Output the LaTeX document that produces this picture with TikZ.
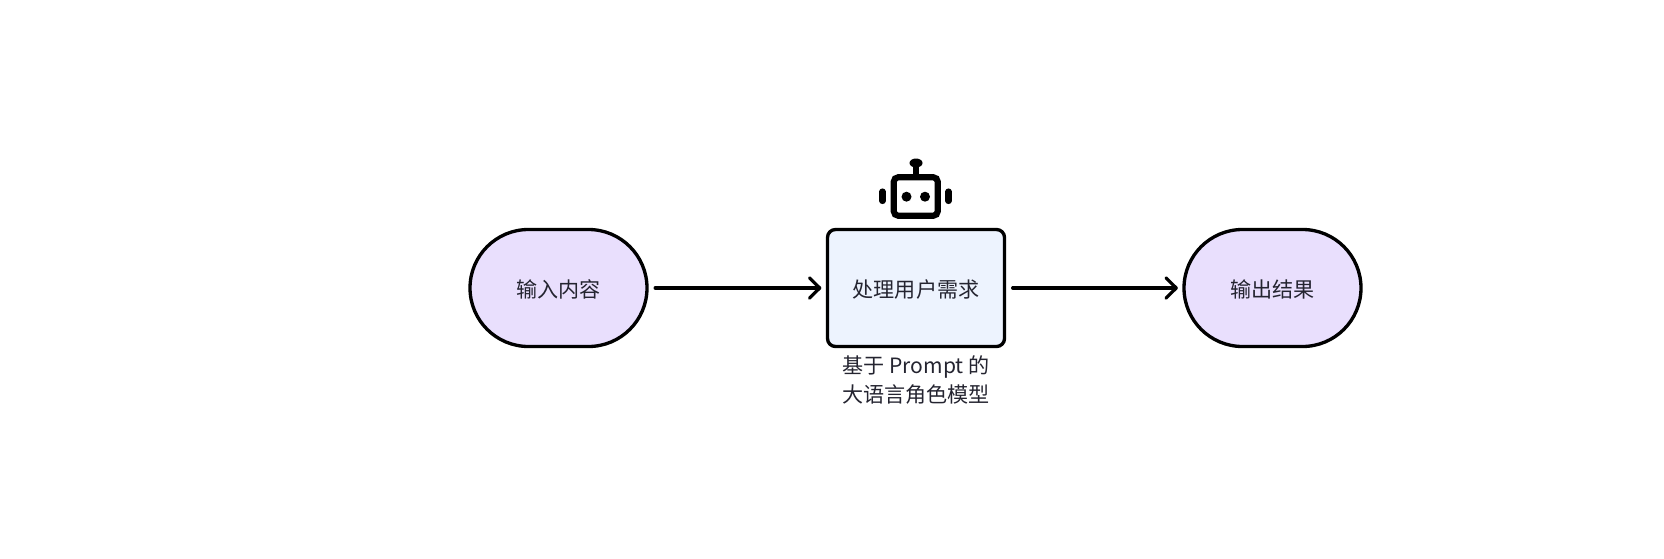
\documentclass[tikz,border=0pt]{standalone}
\usepackage{fontspec}
\setmainfont{Noto Sans CJK SC}
\usepackage{xcolor}
\usetikzlibrary{arrows.meta}
\definecolor{lightpurple}{RGB}{233,223,253}
\definecolor{lightblue}{RGB}{237,243,254}
\definecolor{inkgray}{RGB}{36,36,48}
\tikzset{
    base/.style={draw=black,line width=1.9pt,minimum height=2.34cm,text=inkgray,text height=12pt,font=\fontsize{12}{17}\selectfont},
    endpill/.style={base,minimum width=3.54cm,rounded corners=1.17cm,fill=lightpurple},
    taskbox/.style={base,minimum width=3.54cm,rounded corners=0.16cm,fill=lightblue},
    flow/.style={line width=1.85pt,line cap=round,-{Straight Barb[round,length=5.8pt,width=11.5pt,line width=1.85pt]},shorten >=0.09cm,shorten <=0.13cm},
    iconline/.style={line width=3.5pt,line cap=round},
}
\begin{document}
\begin{tikzpicture}
\useasboundingbox (0,0) rectangle (33.28,11.16);
\node[endpill] (input) at (11.17,5.40) {输入内容};
\node[taskbox] (task) at (18.32,5.40) {处理用户需求};
\node[endpill] (output) at (25.45,5.40) {输出结果};
\node[align=center,text=inkgray,font=\fontsize{12}{17}\selectfont] (caption) at (18.32,3.56) {基于 Prompt 的\\大语言角色模型};

\draw[flow] (input) -- (task);
\draw[flow] (task) -- (output);

% robot above the box
\draw[iconline,rounded corners=0.09cm] (17.875,7.615) rectangle (18.755,6.845);
\foreach \x in {18.13,18.50} {
    \fill (\x,7.226) circle (0.10);
}
\foreach \x in {17.65,18.97} {
    \draw[iconline] (\x,7.33) -- (\x,7.14);
}
\draw[line width=3pt] (18.32,7.90) -- (18.32,7.65);
\fill (18.32,7.90) ellipse (0.13 and 0.09);
\end{tikzpicture}
\end{document}
